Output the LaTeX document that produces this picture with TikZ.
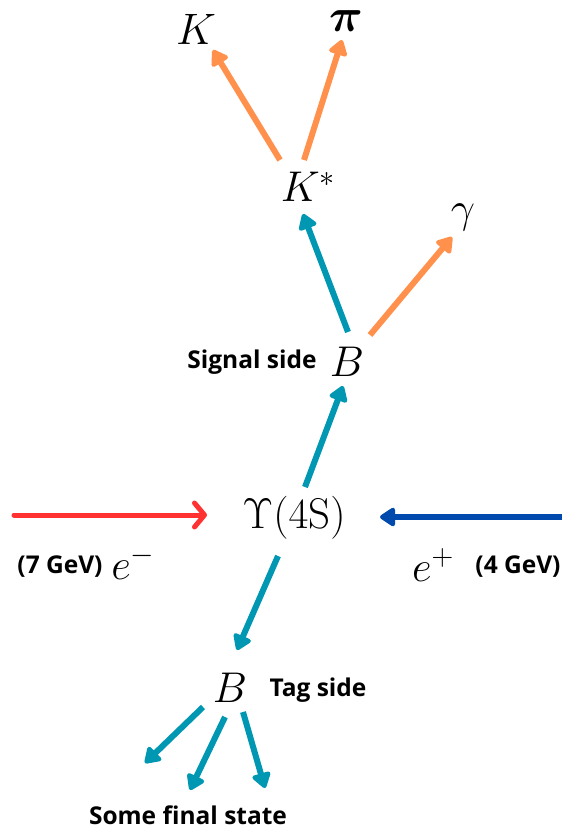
\RequirePackage{fix-cm}
\documentclass[tikz,border=0pt]{standalone}
\usepackage{bm}
\usepackage{fontspec}
\newfontfamily\labfont{Open Sans}
\usetikzlibrary{arrows.meta}
\definecolor{orng}{HTML}{FF914D}
\definecolor{tealc}{HTML}{0097B2}
\definecolor{redc}{HTML}{FF3131}
\definecolor{bluec}{HTML}{004AAD}
\begin{document}
\begin{tikzpicture}[x=1pt,y=-1pt,
  mathlbl/.style={inner sep=0pt, font=\fontsize{43}{50}\selectfont},
  lab/.style={inner sep=0pt, font=\labfont\bfseries\fontsize{24.5}{28}\selectfont},
  tealarr/.style={draw=tealc, line width=6pt, -{Triangle[length=17pt,width=21pt,round]}},
  orarr/.style={draw=orng, line width=6pt, -{Triangle[length=17pt,width=21pt,round]}},
  redarr/.style={draw=redc, line width=5pt, line cap=round, -{Straight Barb[length=10pt,width=24pt,round]}},
  bluearr/.style={draw=bluec, line width=6pt, -{Triangle[length=17pt,width=21pt,round]}}
]
\useasboundingbox (0,0) rectangle (562,831);
% particles
\node[mathlbl, font=\fontsize{44}{50}\selectfont] (K) at (196,29) {$K$};
\node[mathlbl, font=\fontsize{47}{54}\selectfont] (pi) at (346,21) {$\bm{\pi}$};
\node[mathlbl] (Ks) at (308,187) {$K^{*}$};
\node[mathlbl] (gam) at (463,217) {$\gamma$};
\node[mathlbl] (Bs) at (347,362) {$B$};
\node[lab] (sig) at (252,362) {Signal side};
\node[mathlbl] (Y) at (294,518) {$\Upsilon(4\mathrm{S})$};
\node[mathlbl] (em) at (133,563) {$e^{-}$};
\node[lab] (sevgev) at (60,567) {(7 GeV)};
\node[mathlbl] (ep) at (433,565) {$e^{+}$};
\node[lab] (fourgev) at (518,567) {(4 GeV)};
\node[mathlbl] (Bt) at (230,688) {$B$};
\node[lab] (tag) at (318,690) {Tag side};
\node[lab] (fs) at (188,815) {Some final state};
% connector end points
\coordinate (kS) at (280,160); \coordinate (kE) at (213,50);
\coordinate (pS) at (304,160); \coordinate (pE) at (342,40);
\coordinate (ksS) at (348,332); \coordinate (ksE) at (303,214);
\coordinate (gS) at (370,335); \coordinate (gE) at (452,237);
\coordinate (ybS) at (305,487); \coordinate (ybE) at (343,386);
\coordinate (eS) at (14,515); \coordinate (eE) at (207,515);
\coordinate (pbS) at (562,517); \coordinate (pbE) at (380,517);
\coordinate (ytS) at (278,556); \coordinate (ytE) at (237,650);
\coordinate (f1S) at (203,707); \coordinate (f1E) at (145,763);
\coordinate (f2S) at (225,717); \coordinate (f2E) at (190,790);
\coordinate (f3S) at (243,712); \coordinate (f3E) at (265,788);
% connectors
\draw[orarr] (kS) -- (kE);
\draw[orarr] (pS) -- (pE);
\draw[tealarr] (ksS) -- (ksE);
\draw[orarr] (gS) -- (gE);
\draw[tealarr] (ybS) -- (ybE);
\draw[redarr] (eS) -- (eE);
\draw[bluearr] (pbS) -- (pbE);
\draw[tealarr] (ytS) -- (ytE);
\draw[tealarr] (f1S) -- (f1E);
\draw[tealarr] (f2S) -- (f2E);
\draw[tealarr] (f3S) -- (f3E);
\end{tikzpicture}
\end{document}
